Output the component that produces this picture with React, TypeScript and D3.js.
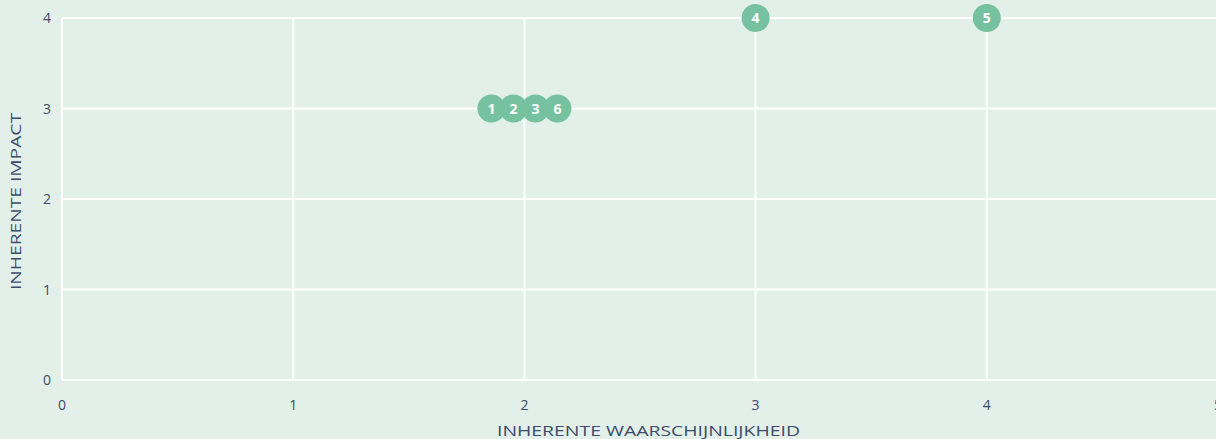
import React from "react";
import * as d3 from "d3";

// Risk register: likelihood (x) and impact (y) per risk id
const riskIds = ["1", "2", "3", "6", "4", "5"];
const likelihood = [2, 2, 2, 2, 3, 4];
const impact = [3, 3, 3, 3, 4, 4];

const xTicks = [0, 1, 2, 3, 4, 5];
const yTicks = [0, 1, 2, 3, 4];

const xTitle = "INHERENTE WAARSCHIJNLIJKHEID";
const yTitle = "INHERENTE IMPACT";

const W = 1216;
const H = 439;
const margin = { left: 62, right: -2, top: 18, bottom: 59 };
const R = 14;
const FONT = "'Open Sans', 'Noto Sans', sans-serif";
const TEXT = "#3d4a6b";

export default function App() {
  const x = d3.scaleLinear().domain([0, 5]).range([margin.left, W - margin.right]);
  const y = d3.scaleLinear().domain([0, 4]).range([H - margin.bottom, margin.top]);

  // Points sharing a cell are dodged horizontally, spaced 22px apart
  const groups = d3.group(
    riskIds.map((id, i) => ({ id, lx: likelihood[i], iy: impact[i] })),
    (d) => `${d.lx}|${d.iy}`
  );
  const points: { id: string; cx: number; cy: number }[] = [];
  for (const g of groups.values()) {
    const n = g.length;
    g.forEach((d, k) => {
      points.push({
        id: d.id,
        cx: x(d.lx) + (k - (n - 1) / 2) * 22,
        cy: y(d.iy),
      });
    });
  }

  return (
    <div style={{ position: "fixed", left: 0, top: 0 }}>
      <svg width={W} height={H} style={{ display: "block", background: "#e2f0e9" }}>
        <rect width={W} height={H} fill="#e2f0e9" />
        {xTicks.map((t) => (
          <line key={"gx" + t} x1={x(t)} x2={x(t)} y1={y(0)} y2={y(4)} stroke="#fff" strokeWidth={2} />
        ))}
        {yTicks.map((t) => (
          <line key={"gy" + t} x1={x(0)} x2={W} y1={y(t)} y2={y(t)} stroke="#fff" strokeWidth={2} />
        ))}
        {yTicks.map((t) => (
          <text key={"ty" + t} x={51} y={y(t)} dy="0.36em" textAnchor="end" fontFamily={FONT} fontSize={14} fill={TEXT}>
            {t}
          </text>
        ))}
        {xTicks.map((t) => (
          <text key={"tx" + t} x={x(t)} y={405} dy="0.36em" textAnchor="middle" fontFamily={FONT} fontSize={14} fill={TEXT}>
            {t}
          </text>
        ))}
        <text
          x={648.5}
          y={436}
          textAnchor="middle"
          fontFamily={FONT}
          fontSize={14}
          fill={TEXT}
          textLength={303}
          lengthAdjust="spacingAndGlyphs"
        >
          {xTitle}
        </text>
        <text
          transform={`translate(21,201.5) rotate(-90)`}
          textAnchor="middle"
          fontFamily={FONT}
          fontSize={14}
          fill={TEXT}
          textLength={177}
          lengthAdjust="spacingAndGlyphs"
        >
          {yTitle}
        </text>
        {points.map((p) => (
          <g key={p.id}>
            <circle cx={p.cx} cy={p.cy} r={R} fill="#76c2a0" />
            <text x={p.cx} y={p.cy} dy="0.36em" textAnchor="middle" fontFamily={FONT} fontWeight={700} fontSize={14} fill="#fff">
              {p.id}
            </text>
          </g>
        ))}
      </svg>
    </div>
  );
}
